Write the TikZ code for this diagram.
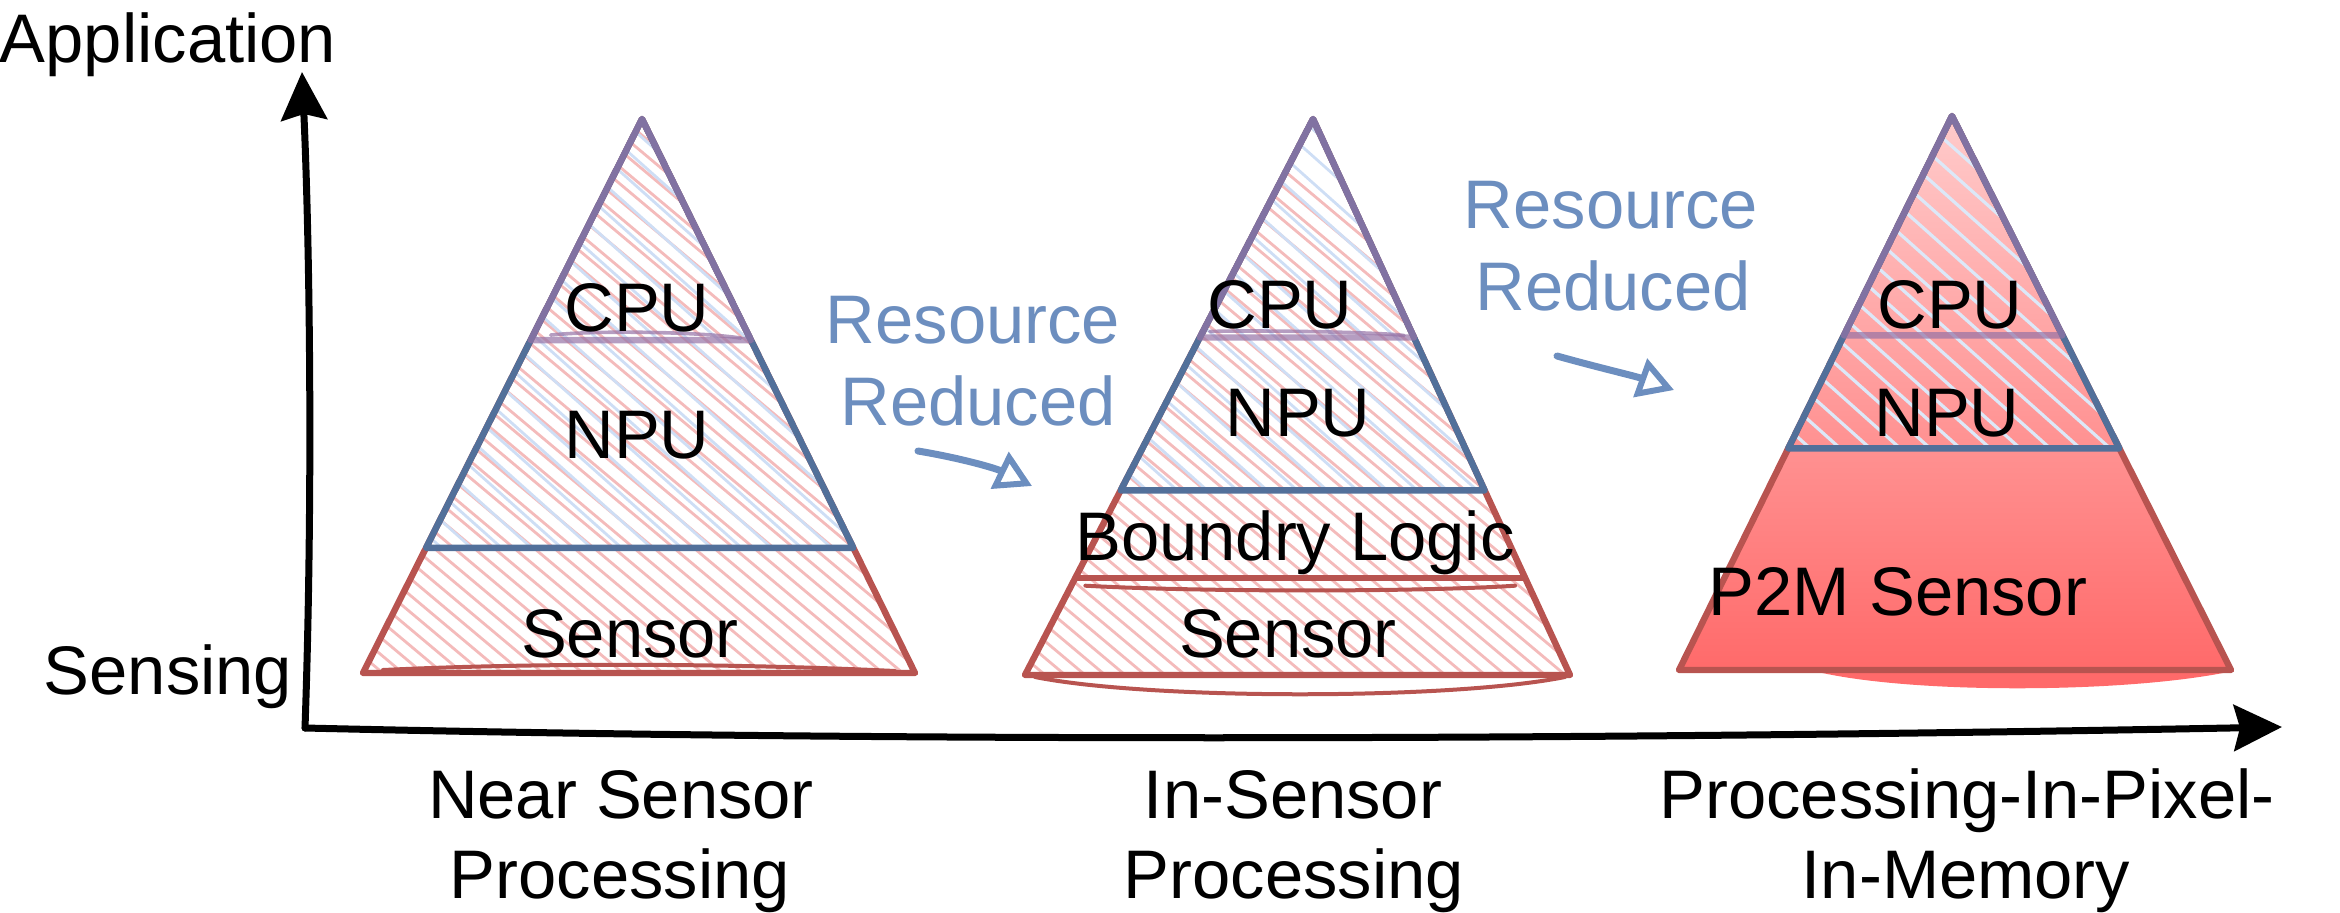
\documentclass[tikz,border=0pt]{standalone}
\usepackage{fontspec}
\setmainfont{Liberation Sans}
\usetikzlibrary{calc,arrows.meta}
\definecolor{redline}{HTML}{B85450}
\definecolor{blueline}{HTML}{52709A}
\definecolor{purpline}{HTML}{9673A6}
\definecolor{hatchpink}{HTML}{F4BBBB}
\definecolor{hatchblue}{HTML}{CEDEF5}
\definecolor{hatchwhite}{HTML}{DCE8F8}
\definecolor{restext}{HTML}{6C8EBF}
\definecolor{ptop}{HTML}{FFCBCB}
\definecolor{pbot}{HTML}{FF6A6A}
\begin{document}
\begin{tikzpicture}[x=0.5bp,y=-0.5bp,
  lbl/.style={font=\fontsize{34.5}{40}\selectfont, inner sep=0pt, anchor=base},
  rtxt/.style={lbl, text=restext},
  redtri/.style={draw=redline, line width=3.2bp, line join=round, line cap=round},
  bluetri/.style={draw=blueline, line width=3.2bp, line join=round, line cap=round},
  purptri/.style={draw=purpline, line width=3.2bp, draw opacity=0.7, line join=round, line cap=round},
  thinred/.style={draw=redline, line width=2bp, line cap=round},
  hatchR/.style={draw=hatchpink, line width=1.4bp},
  hatchB/.style={draw=hatchblue, line width=1.4bp},
  hatchW/.style={draw=hatchwhite, line width=1.6bp},
  axisline/.style={draw=black, line width=3.5bp, line cap=round,
     -{Stealth[length=24bp, width=23bp, inset=3bp]}},
  resarrow/.style={draw=restext, line width=3.5bp, line cap=round,
     -{Triangle[open, length=18bp, width=20bp, line width=3bp]}}
]
\useasboundingbox (0,0) rectangle (2340,912);

% ---------- axes ----------
\coordinate (O) at (305,728);
\coordinate (ytip) at (302,72);
\coordinate (xtip) at (2282,727);
\draw[axisline] (O) .. controls (313,500) and (310,250) .. (ytip);
\draw[axisline] (O) .. controls (900,742) and (1600,740) .. (xtip);
\node[lbl] (app) at (168,62) {Application};
\node[lbl] (sens) at (168,694) {Sensing};

% ---------- pyramid 1 ----------
\coordinate (A1) at (642,119);
\coordinate (L1) at (363,673);
\coordinate (R1) at (915,673);
\coordinate (B1l) at ($(A1)!0.774!(L1)$);
\coordinate (B1r) at ($(A1)!0.774!(R1)$);
\coordinate (C1l) at ($(A1)!0.399!(L1)$);
\coordinate (C1r) at ($(A1)!0.399!(R1)$);
\begin{scope}
  \clip (A1) -- (L1) -- (R1) -- cycle;
  \foreach \k in {0,...,70} \draw[hatchR] ({-400+\k*20},100) -- ++(715,600);
\end{scope}
\begin{scope}
  \clip (A1) -- (B1l) -- (B1r) -- cycle;
  \foreach \k in {0,...,40} \draw[hatchB] ({-150+\k*30},100) -- ++(560,500);
\end{scope}
\draw[redtri] (A1) -- (L1) -- (R1) -- cycle;
\draw[thinred] ($(L1)+(20,-3)$) .. controls (550,662) and (750,664) .. ($(R1)+(-20,-2)$);
\draw[bluetri] (A1) -- (B1l) -- (B1r) -- cycle;
\draw[purptri] (A1) -- (C1l) -- (C1r) -- cycle;
\draw[purptri, line width=1.8bp] ($(C1l)+(20,-5)$) .. controls (600,330) and (700,332) .. ($(C1r)+(-10,-2)$);
\node[lbl] (cpu1) at (637,331) {CPU};
\node[lbl] (npu1) at (637,458) {NPU};
\node[lbl] (sen1) at (630,657) {Sensor};

% ---------- arrow 1 ----------
\node[rtxt] (res1) at (973,343) {Resource};
\node[rtxt] (red1) at (978,425) {Reduced};
\coordinate (a1s) at (918,451);
\coordinate (a1e) at (1032,486);
\draw[resarrow] (a1s) .. controls (960,458) and (995,468) .. (a1e);

% ---------- pyramid 2 ----------
\coordinate (A2) at (1313,119);
\coordinate (L2) at (1025,675);
\coordinate (R2) at (1570,675);
\coordinate (B2l) at ($(A2)!0.668!(L2)$);
\coordinate (B2r) at ($(A2)!0.668!(R2)$);
\coordinate (D2l) at ($(A2)!0.825!(L2)$);
\coordinate (D2r) at ($(A2)!0.825!(R2)$);
\coordinate (C2l) at ($(A2)!0.393!(L2)$);
\coordinate (C2r) at ($(A2)!0.393!(R2)$);
\begin{scope}
  \clip (A2) -- (L2) -- (R2) -- cycle;
  \foreach \k in {0,...,75} \draw[hatchR] ({-300+\k*20},100) -- ++(715,600);
\end{scope}
\begin{scope}
  \clip (A2) -- (B2l) -- (B2r) -- cycle;
  \foreach \k in {0,...,40} \draw[hatchB] ({500+\k*30},100) -- ++(560,500);
\end{scope}
\draw[redtri] (A2) -- (L2) -- (R2) -- cycle;
\draw[thinred] ($(L2)+(10,2)$) .. controls (1150,700) and (1450,700) .. ($(R2)+(-5,2)$);
\draw[redtri] (D2l) -- (D2r);
\draw[thinred] ($(D2l)+(10,8)$) .. controls (1200,592) and (1420,592) .. ($(D2r)+(-10,8)$);
\draw[bluetri] (A2) -- (B2l) -- (B2r) -- cycle;
\draw[purptri] (A2) -- (C2l) -- (C2r) -- cycle;
\draw[purptri, line width=1.8bp] ($(C2l)+(10,-6)$) .. controls (1250,330) and (1380,332) .. ($(C2r)+(-10,-2)$);
\node[lbl] (cpu2) at (1280,328) {CPU};
\node[lbl] (npu2) at (1298,436) {NPU};
\node[lbl] (bl2) at (1295,560) {Boundry Logic};
\node[lbl] (sen2) at (1288,657) {Sensor};

% ---------- arrow 2 ----------
\node[rtxt] (res2) at (1611,228) {Resource};
\node[rtxt] (red2) at (1613,310) {Reduced};
\coordinate (a2s) at (1557,356);
\coordinate (a2e) at (1674,390);
\draw[resarrow] (a2s) .. controls (1600,368) and (1635,376) .. (a2e);

% ---------- pyramid 3 ----------
\coordinate (A3) at (1952,116);
\coordinate (L3) at (1679,670);
\coordinate (R3) at (2231,670);
\coordinate (B3l) at ($(A3)!0.6!(L3)$);
\coordinate (B3r) at ($(A3)!0.6!(R3)$);
\coordinate (C3l) at ($(A3)!0.396!(L3)$);
\coordinate (C3r) at ($(A3)!0.396!(R3)$);
\fill[pbot] (1810,670) .. controls (1900,694) and (2120,694) .. (2228,672) -- cycle;
\shade[top color=ptop, bottom color=pbot] (A3) -- (L3) -- (R3) -- cycle;
\begin{scope}
  \clip (A3) -- (B3l) -- (B3r) -- cycle;
  \foreach \k in {0,...,40} \draw[hatchW] ({1150+\k*30},100) -- ++(560,500);
\end{scope}
\draw[redtri] (A3) -- (L3) -- (R3) -- cycle;
\draw[bluetri] (A3) -- (B3l) -- (B3r) -- cycle;
\draw[purptri] (A3) -- (C3l) -- (C3r) -- cycle;
\node[lbl] (cpu3) at (1950,328) {CPU};
\node[lbl] (npu3) at (1947,436) {NPU};
\node[lbl] (p2m) at (1898,615) {P2M Sensor};

% ---------- bottom labels ----------
\node[lbl] (ns1) at (621,818) {Near Sensor};
\node[lbl] (ns2) at (620,898) {Processing};
\node[lbl] (is1) at (1293,818) {In-Sensor};
\node[lbl] (is2) at (1294,898) {Processing};
\node[lbl] (pp1) at (1967,818) {Processing-In-Pixel-};
\node[lbl] (pp2) at (1966,898) {In-Memory};
\end{tikzpicture}
\end{document}
